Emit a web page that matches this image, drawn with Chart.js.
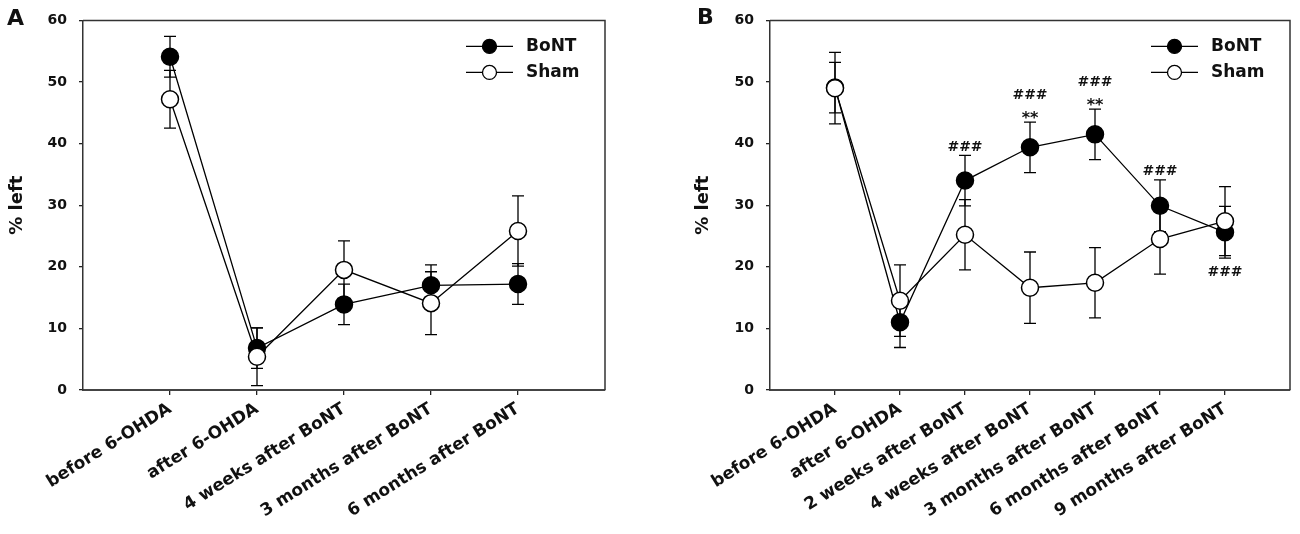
<!DOCTYPE html>
<html>
<head>
<meta charset="utf-8">
<script src="https://cdn.jsdelivr.net/npm/chart.js@4.4.1/dist/chart.umd.min.js"></script>
<style>
  body { margin: 0; background: #fff; }
  #wrap { position: relative; width: 1300px; height: 534px; overflow: hidden; }
  canvas { position: absolute; top: 0; }
  #chartA { left: 0; }
  #chartB { left: 690px; }
  .tag { position: absolute; font: bold 22px "DejaVu Sans"; color: #111; line-height: 1; }
</style>
</head>
<body>
<div id="wrap">
  <canvas id="chartA" width="650" height="534"></canvas>
  <canvas id="chartB" width="610" height="534"></canvas>
  <div class="tag" style="left:7px; top:7px;">A</div>
  <div class="tag" style="left:697px; top:6px;">B</div>
</div>
<script>
// Panel A data (mean and SEM, % left)
const labelsA = ['before 6-OHDA', 'after 6-OHDA', '4 weeks after BoNT', '3 months after BoNT', '6 months after BoNT'];
const bontA = [54.1, 6.8, 13.9, 17.0, 17.2];
const bontErrA = [3.3, 3.3, 3.3, 3.3, 3.3];
const shamA = [47.2, 5.4, 19.5, 14.1, 25.8];
const shamErrA = [4.7, 4.7, 4.7, 5.1, 5.7];

// Panel B data
const labelsB = ['before 6-OHDA', 'after 6-OHDA', '2 weeks after BoNT', '4 weeks after BoNT',
  '3 months after BoNT', '6 months after BoNT', '9 months after BoNT'];
const bontB = [49.1, 11.0, 34.0, 39.4, 41.5, 29.9, 25.6];
const bontErrB = [4.1, 4.1, 4.1, 4.1, 4.1, 4.2, 4.2];
const shamB = [49.0, 14.5, 25.2, 16.6, 17.4, 24.5, 27.4];
const shamErrB = [5.8, 5.8, 5.7, 5.8, 5.7, 5.7, 5.6];

// significance marks on the BoNT series of panel B
const hashB = ['', '', '###', '###', '###', '###', '###'];
const starB = ['', '', '', '**', '**', '', ''];
const hashSideB = ['', '', 'up', 'up', 'up', 'up', 'down'];

const yTicks = [0, 10, 20, 30, 40, 50, 60];
const FONT = '"DejaVu Sans", sans-serif';

// error bars with caps, drawn under the lines and markers
const errorBars = {
  id: 'errorBars',
  beforeDatasetsDraw(chart) {
    const { ctx, scales: { x, y } } = chart;
    ctx.save();
    ctx.strokeStyle = '#000';
    ctx.lineWidth = 1.3;
    chart.data.datasets.forEach(ds => {
      ds.data.forEach((p, i) => {
        const e = ds.err[i];
        const px = x.getPixelForValue(p.x);
        const top = y.getPixelForValue(p.y + e);
        const bot = y.getPixelForValue(p.y - e);
        ctx.beginPath();
        ctx.moveTo(px, top); ctx.lineTo(px, bot);
        ctx.moveTo(px - 6, top); ctx.lineTo(px + 6, top);
        ctx.moveTo(px - 6, bot); ctx.lineTo(px + 6, bot);
        ctx.stroke();
      });
    });
    ctx.restore();
  }
};

// top and right side of the box
const frame = {
  id: 'frame',
  beforeDatasetsDraw(chart) {
    const { ctx, chartArea: { left, right, top, bottom } } = chart;
    ctx.save();
    ctx.strokeStyle = '#333';
    ctx.lineWidth = 1.5;
    ctx.beginPath();
    ctx.moveTo(left, top); ctx.lineTo(right, top); ctx.lineTo(right, bottom);
    ctx.stroke();
    ctx.restore();
  }
};

// legend: line with marker in the middle, top right inside the box
const legendMarks = {
  id: 'legendMarks',
  afterDraw(chart) {
    const { ctx, chartArea: { right, top } } = chart;
    const items = [...chart.data.datasets].reverse();
    ctx.save();
    ctx.font = 'bold 17px ' + FONT;
    ctx.textBaseline = 'middle';
    items.forEach((ds, k) => {
      const yy = top + 26 + k * 26;
      ctx.strokeStyle = '#000';
      ctx.lineWidth = 1.3;
      ctx.beginPath();
      ctx.moveTo(right - 139, yy); ctx.lineTo(right - 92, yy);
      ctx.stroke();
      ctx.beginPath();
      ctx.arc(right - 115.5, yy, 7, 0, Math.PI * 2);
      ctx.fillStyle = ds.pointBackgroundColor;
      ctx.fill();
      ctx.stroke();
      ctx.fillStyle = '#111';
      ctx.fillText(ds.label, right - 79, yy);
    });
    ctx.restore();
  }
};

// draw text so that its visible ink bottom (or top) sits at a given pixel
function inkText(ctx, str, px, edge, fromTop) {
  const m = ctx.measureText(str);
  const base = fromTop ? edge + m.actualBoundingBoxAscent : edge - m.actualBoundingBoxDescent;
  ctx.fillText(str, px, base);
}

// ### and ** above / below the BoNT error bars
const sigMarks = {
  id: 'sigMarks',
  afterDatasetsDraw(chart, args, opts) {
    if (!opts.hash) return;
    const { ctx, scales: { x, y } } = chart;
    ctx.save();
    ctx.fillStyle = '#111';
    ctx.textAlign = 'center';
    ctx.textBaseline = 'alphabetic';
    opts.hash.forEach((h, i) => {
      if (!h) return;
      const px = x.getPixelForValue(i + 1);
      const m = opts.mean[i], e = opts.err[i];
      if (opts.side[i] === 'up') {
        const cap = y.getPixelForValue(m + e);
        let hashBottom = cap - 4.5;
        if (opts.star[i]) {
          ctx.font = 'bold 16px ' + FONT;
          inkText(ctx, opts.star[i], px, cap - 3, false);
          hashBottom = cap - 23;
        }
        ctx.font = 'bold 14px ' + FONT;
        inkText(ctx, h, px, hashBottom, false);
      } else {
        const cap = y.getPixelForValue(m - e);
        ctx.font = 'bold 14px ' + FONT;
        inkText(ctx, h, px, cap + 8, true);
      }
    });
    ctx.restore();
  }
};

function series(label, values, errs, fill) {
  return {
    label,
    data: values.map((v, i) => ({ x: i + 1, y: v })),
    err: errs,
    borderColor: '#000',
    borderWidth: 1.3,
    tension: 0,
    pointRadius: 8.5,
    pointHoverRadius: 8.5,
    pointBorderWidth: 1.5,
    pointBorderColor: '#000',
    pointBackgroundColor: fill
  };
}

function buildChart(id, o) {
  const n = o.labels.length;
  return new Chart(document.getElementById(id), {
    type: 'line',
    data: {
      // Sham first so its white markers sit on top of the black ones
      datasets: [
        series('Sham', o.sham, o.shamErr, '#fff'),
        series('BoNT', o.bont, o.bontErr, '#000')
      ]
    },
    options: {
      responsive: false,
      animation: false,
      layout: { padding: { left: o.padLeft, right: o.padRight, top: 15, bottom: 0 } },
      plugins: {
        legend: { display: false },
        tooltip: { enabled: false },
        sigMarks: o.marks || {}
      },
      scales: {
        x: {
          type: 'linear',
          min: 0,
          max: n + 1,
          afterBuildTicks: s => { s.ticks = o.labels.map((l, i) => ({ value: i + 1 })); },
          afterFit: s => { s.height = 144; },
          ticks: {
            autoSkip: false,
            minRotation: 32,
            maxRotation: 32,
            padding: 4,
            color: '#111',
            font: { family: FONT, weight: 'bold', size: 17 },
            callback: v => o.labels[v - 1]
          },
          grid: { drawOnChartArea: false, tickLength: 5, color: '#222', lineWidth: 1.3 },
          border: { color: '#444', width: 2 }
        },
        y: {
          min: 0,
          max: 60,
          afterBuildTicks: s => { s.ticks = yTicks.map(v => ({ value: v })); },
          afterFit: s => { s.width = o.axisWidth; },
          ticks: {
            padding: 12,
            color: '#111',
            font: { family: FONT, weight: 'bold', size: 14 }
          },
          title: {
            display: true,
            text: '% left',
            color: '#111',
            padding: { top: 0, bottom: 0 },
            font: { family: FONT, weight: 'bold', size: 18 }
          },
          grid: { drawOnChartArea: false, tickLength: 4, color: '#222', lineWidth: 1.3 },
          border: { color: '#333', width: 1.5 }
        }
      }
    },
    plugins: [errorBars, frame, legendMarks, sigMarks]
  });
}

buildChart('chartA', {
  labels: labelsA, bont: bontA, bontErr: bontErrA, sham: shamA, shamErr: shamErrA,
  padLeft: 7, padRight: 45, axisWidth: 76
});

buildChart('chartB', {
  labels: labelsB, bont: bontB, bontErr: bontErrB, sham: shamB, shamErr: shamErrB,
  padLeft: 3, padRight: 8, axisWidth: 77,
  marks: { hash: hashB, star: starB, side: hashSideB, mean: bontB, err: bontErrB }
});
</script>
</body>
</html>
